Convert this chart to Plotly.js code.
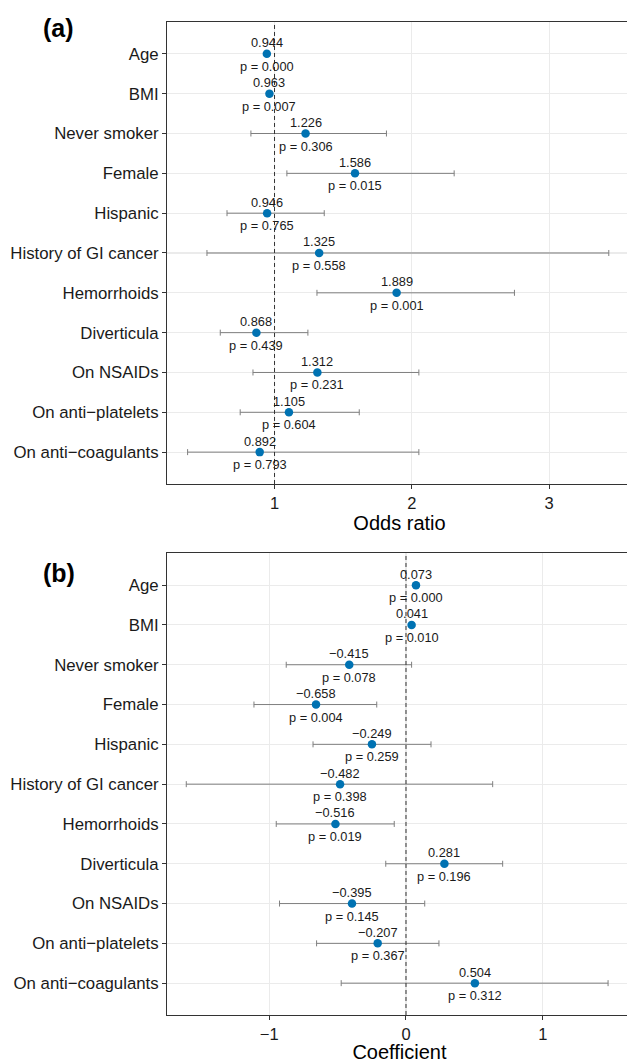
<!DOCTYPE html>
<html>
<head>
<meta charset="utf-8">
<script src="https://cdn.plot.ly/plotly-3.0.1.min.js"></script>
<style>
html,body{margin:0;padding:0;overflow:hidden;background:#fff;}
#chart{width:632px;height:1063px;}
</style>
</head>
<body>
<div id="chart"></div>
<script>
const categories = ["Age","BMI","Never smoker","Female","Hispanic","History of GI cancer","Hemorrhoids","Diverticula","On NSAIDs","On anti\u2212platelets","On anti\u2212coagulants"];

// Panel (a): odds ratios
const orEst  = [0.944, 0.963, 1.226, 1.586, 0.946, 1.325, 1.889, 0.868, 1.312, 1.105, 0.892];
const orLow  = [0.928, 0.944, 0.828, 1.090, 0.654, 0.508, 1.309, 0.605, 0.843, 0.750, 0.367];
const orHigh = [0.961, 0.982, 1.815, 2.308, 1.362, 3.434, 2.747, 1.243, 2.051, 1.617, 2.051];
const orP    = [0.000, 0.007, 0.306, 0.015, 0.765, 0.558, 0.001, 0.439, 0.231, 0.604, 0.793];

// Panel (b): coefficients
const coefEst  = [0.073, 0.041, -0.415, -0.658, -0.249, -0.482, -0.516, 0.281, -0.395, -0.207, 0.504];
const coefLow  = [0.055, 0.025, -0.876, -1.112, -0.680, -1.607, -0.949, -0.148, -0.925, -0.654, -0.474];
const coefHigh = [0.091, 0.057, 0.041, -0.214, 0.183, 0.634, -0.086, 0.707, 0.137, 0.241, 1.478];
const coefP    = [0.000, 0.010, 0.078, 0.004, 0.259, 0.398, 0.019, 0.196, 0.145, 0.367, 0.312];

const orTicks = [1, 2, 3];
const coefTicks = [-1, 0, 1];
const orRef = 1;
const coefRef = 0;

const FONT = "Liberation Sans, Arial, Helvetica, sans-serif";
const TXT = "#1a1a1a";
const BLUE = "#0072B2";

function fmt(v){ return v.toFixed(3).replace("-", "\u2212"); }

function makeTrace(est, lo, hi, xa, ya){
  return {
    type: "scatter", mode: "markers",
    x: est, y: categories, xaxis: xa, yaxis: ya,
    marker: {color: BLUE, size: 8.5},
    error_x: {
      type: "data", symmetric: false,
      array: est.map((v,i)=>hi[i]-v),
      arrayminus: est.map((v,i)=>v-lo[i]),
      color: "#7f7f7f", thickness: 1, width: 3
    },
    hoverinfo: "skip", showlegend: false
  };
}

function makeAnnots(est, p, xr, yr){
  const out = [];
  est.forEach((v,i)=>{
    out.push({x: v, y: categories[i], xref: xr, yref: yr, text: fmt(v), showarrow: false,
      xanchor: "center", yanchor: "middle", yshift: 11, font: {family: FONT, size: 12.8, color: TXT}});
    out.push({x: v, y: categories[i], xref: xr, yref: yr, text: "p = " + p[i].toFixed(3), showarrow: false,
      xanchor: "center", yanchor: "middle", yshift: -12.5, font: {family: FONT, size: 12.8, color: TXT}});
  });
  return out;
}

function xAxis(range, ticks, title, anchor){
  return {
    anchor: anchor, domain: [0,1], range: range, tickvals: ticks,
    ticktext: ticks.map(t=>String(t).replace("-", "\u2212")),
    showgrid: true, gridcolor: "#EBEBEB", gridwidth: 1.1, zeroline: false,
    showline: true, mirror: true, linecolor: "#333333", linewidth: 1,
    ticks: "outside", ticklen: 4, tickcolor: "#333333", tickwidth: 1,
    tickfont: {family: FONT, size: 16.5, color: TXT},
    title: {text: title, font: {family: FONT, size: 20, color: "#000"}, standoff: 5},
    fixedrange: true
  };
}
function yAxis(domain, anchor){
  return {
    anchor: anchor, domain: domain, type: "category",
    categoryorder: "array", categoryarray: categories,
    range: [10.8, -0.8],
    showgrid: true, gridcolor: "#EBEBEB", gridwidth: 1.1, zeroline: false,
    showline: true, mirror: true, linecolor: "#333333", linewidth: 1,
    ticks: "outside", ticklen: 4, tickcolor: "#333333", tickwidth: 1,
    tickfont: {family: FONT, size: 16.8, color: TXT},
    fixedrange: true
  };
}

const data = [
  makeTrace(orEst, orLow, orHigh, "x", "y"),
  makeTrace(coefEst, coefLow, coefHigh, "x2", "y2")
];

const annotations = []
  .concat(makeAnnots(orEst, orP, "x", "y"))
  .concat(makeAnnots(coefEst, coefP, "x2", "y2"))
  .concat([
    {text: "<b>(a)</b>", xref: "paper", yref: "paper", x: -0.27, y: 0.9737, xanchor: "left", yanchor: "middle",
     showarrow: false, font: {family: FONT, size: 25, color: "#000"}},
    {text: "<b>(b)</b>", xref: "paper", yref: "paper", x: -0.27, y: 0.4607, xanchor: "left", yanchor: "middle",
     showarrow: false, font: {family: FONT, size: 25, color: "#000"}}
  ]);

const shapes = [
  {type: "line", xref: "x", yref: "y domain", x0: orRef, x1: orRef, y0: 0, y1: 1, layer: "above",
   line: {color: "#333333", width: 1, dash: "4px,3px"}},
  {type: "line", xref: "x2", yref: "y2 domain", x0: coefRef, x1: coefRef, y0: 0, y1: 1, layer: "above",
   line: {color: "#333333", width: 1, dash: "4px,3px"}}
];

const layout = {
  width: 632, height: 1063,
  margin: {l: 166.7, r: 0, t: 0, b: 0},
  paper_bgcolor: "#fff", plot_bgcolor: "#fff",
  font: {family: FONT, color: TXT},
  xaxis: xAxis([0.217, 3.603], orTicks, "Odds ratio", "y"),
  yaxis: yAxis([0.5447, 0.9793], "x"),
  xaxis2: xAxis([-1.748, 1.653], coefTicks, "Coefficient", "y2"),
  yaxis2: yAxis([0.04516, 0.4795], "x2"),
  annotations: annotations,
  shapes: shapes,
  showlegend: false
};

Plotly.newPlot("chart", data, layout, {staticPlot: true, displayModeBar: false});
</script>
</body>
</html>
